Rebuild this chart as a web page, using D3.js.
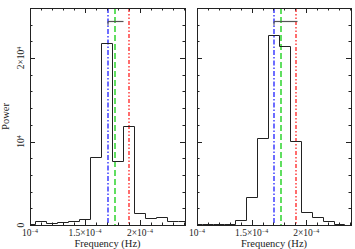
<!DOCTYPE html>
<html>
<head>
<meta charset="utf-8">
<script src="https://cdn.jsdelivr.net/npm/d3@7"></script>
<style>
  body { margin: 0; background: #fff; }
  text { font-family: "Liberation Serif", "Times New Roman", serif; fill: #222; }
</style>
</head>
<body>
<div id="chart"></div>
<script>
// Data
// ================================
var binCenters = [1.0e-4, 1.1e-4, 1.2e-4, 1.3e-4, 1.4e-4, 1.5e-4, 1.6e-4, 1.7e-4,
                  1.8e-4, 1.9e-4, 2.0e-4, 2.1e-4, 2.2e-4, 2.3e-4, 2.4e-4];
var binWidth = 1e-5;
var leftPower  = [60, 440, 200, 320, 480, 720, 8100, 21830, 7700, 11850, 1450, 800, 950, 510, 510];
var rightPower = [60, 70, 100, 110, 550, 3390, 10400, 22750, 21470, 10100, 1550, 950, 480, 80, 50];

var blueFreq  = [1.706e-4, 1.706e-4];
var greenFreq = [1.772e-4, 1.770e-4];
var redFreq   = [1.903e-4, 1.906e-4];
var barFrom   = [1.706e-4, 1.706e-4];
var barTo     = [1.843e-4, 1.912e-4];
var barPower  = 24470;

var xTickMajor = [1.0e-4, 1.5e-4, 2.0e-4];
var xTickLabels = [["10", "−4"], ["1.5×10", "−4"], ["2×10", "−4"]];
var yTickMajor = [0, 10000, 20000];
var yTickLabels = [["0", ""], ["10", "4"], ["2×10", "4"]];

// Set up the chart
// ================================
var svgWidth = 355;
var svgHeight = 249;
var plotTop = 8, plotBottom = 225;
var panels = [
  { left: 30, right: 185, power: leftPower, i: 0 },
  { left: 197, right: 351, power: rightPower, i: 1 }
];

var svg = d3.select("#chart")
  .append("svg")
  .attr("width", svgWidth)
  .attr("height", svgHeight);

var yScale = d3.scaleLinear()
  .domain([0, 26000])
  .range([plotBottom, plotTop]);

var minorX = d3.range(100, 241, 10).map(d => d * 1e-6);
var minorY = d3.range(0, 26001, 2000);

// snap to pixel centre so 1px lines stay crisp
var crisp = v => Math.round(v) + 0.5;

panels.forEach(function(p) {
  var xScale = d3.scaleLinear()
    .domain([1e-4, 2.41e-4])
    .range([p.left, p.right]);

  var g = svg.append("g");
  var clipId = "clip" + p.i;
  svg.append("clipPath").attr("id", clipId)
    .append("rect")
    .attr("x", p.left).attr("y", plotTop)
    .attr("width", p.right - p.left).attr("height", plotBottom - plotTop);

  // histogram as steps
  var pts = binCenters.map((c, k) => [c - binWidth / 2, p.power[k]]);
  pts.push([binCenters[binCenters.length - 1] + binWidth / 2, p.power[p.power.length - 1]]);
  var line = d3.line()
    .x(d => crisp(xScale(d[0])))
    .y(d => crisp(yScale(d[1])))
    .curve(d3.curveStepAfter);

  var inner = g.append("g").attr("clip-path", `url(#${clipId})`);

  // vertical marker lines
  var markers = [
    [blueFreq[p.i], "#2f2fff", "5,2,1.5,2"],
    [greenFreq[p.i], "#1fd11f", "6,3"],
    [redFreq[p.i], "#ff2f2f", "4,2,1.5,2,1.5,2"]
  ];
  markers.forEach(function(m) {
    var x = Math.round(xScale(m[0]));
    inner.append("line")
      .attr("x1", x).attr("x2", x)
      .attr("y1", plotTop).attr("y2", plotBottom)
      .attr("stroke", m[1]).attr("stroke-width", 1.4)
      .attr("stroke-dasharray", m[2]);
  });

  inner.append("path")
    .attr("d", line(pts))
    .attr("fill", "none")
    .attr("stroke", "#222")
    .attr("stroke-width", 1);

  // horizontal bar
  var by = crisp(yScale(barPower));
  inner.append("line")
    .attr("x1", Math.round(xScale(barFrom[p.i]))).attr("x2", crisp(xScale(barTo[p.i])))
    .attr("y1", by).attr("y2", by)
    .attr("stroke", "#555").attr("stroke-width", 1.2);
  inner.append("line")
    .attr("x1", Math.round(xScale(barFrom[p.i]))).attr("x2", Math.round(xScale(barFrom[p.i])))
    .attr("y1", by).attr("y2", by + 4)
    .attr("stroke", "#555").attr("stroke-width", 1);

  // frame
  g.append("rect")
    .attr("x", p.left + 0.5).attr("y", plotTop + 0.5)
    .attr("width", p.right - p.left).attr("height", plotBottom - plotTop)
    .attr("fill", "none").attr("stroke", "#222").attr("stroke-width", 1);

  // x ticks (bottom and top, inward)
  minorX.forEach(function(v) {
    var major = xTickMajor.some(m => Math.abs(m - v) < 1e-9);
    var len = major ? 5 : 2.5;
    var x = crisp(xScale(v));
    g.append("line").attr("x1", x).attr("x2", x)
      .attr("y1", plotBottom).attr("y2", plotBottom - len)
      .attr("stroke", "#222");
    g.append("line").attr("x1", x).attr("x2", x)
      .attr("y1", plotTop).attr("y2", plotTop + len)
      .attr("stroke", "#222");
  });

  // y ticks (left and right, inward)
  minorY.forEach(function(v) {
    var major = v % 10000 === 0;
    var len = major ? 5 : 2.5;
    var y = crisp(yScale(v));
    g.append("line").attr("x1", p.left).attr("x2", p.left + len)
      .attr("y1", y).attr("y2", y).attr("stroke", "#222");
    g.append("line").attr("x1", p.right).attr("x2", p.right - len)
      .attr("y1", y).attr("y2", y).attr("stroke", "#222");
  });

  // x tick labels
  xTickMajor.forEach(function(v, k) {
    var t = g.append("text")
      .attr("x", xScale(v))
      .attr("y", 236)
      .attr("text-anchor", "middle")
      .attr("font-size", "9.5px");
    t.append("tspan").text(xTickLabels[k][0]);
    t.append("tspan").attr("dy", -3.5).attr("font-size", "6px").text(xTickLabels[k][1]);
  });

  // x axis label
  g.append("text")
    .attr("x", (p.left + p.right) / 2)
    .attr("y", 247)
    .attr("text-anchor", "middle")
    .attr("font-size", "10.5px")
    .text("Frequency (Hz)");

  // y tick labels only on the left panel
  if (p.i === 0) {
    yTickMajor.forEach(function(v, k) {
      var t = g.append("text")
        .attr("transform", `translate(${p.left - 6}, ${yScale(v)}) rotate(-90)`)
        .attr("text-anchor", "middle")
        .attr("font-size", "9.5px");
      t.append("tspan").text(yTickLabels[k][0]);
      if (yTickLabels[k][1]) {
        t.append("tspan").attr("dy", -3.5).attr("font-size", "6px").text(yTickLabels[k][1]);
      }
    });
    g.append("text")
      .attr("transform", `translate(9, ${(plotTop + plotBottom) / 2}) rotate(-90)`)
      .attr("text-anchor", "middle")
      .attr("font-size", "10.5px")
      .text("Power");
  }
});
</script>
</body>
</html>
